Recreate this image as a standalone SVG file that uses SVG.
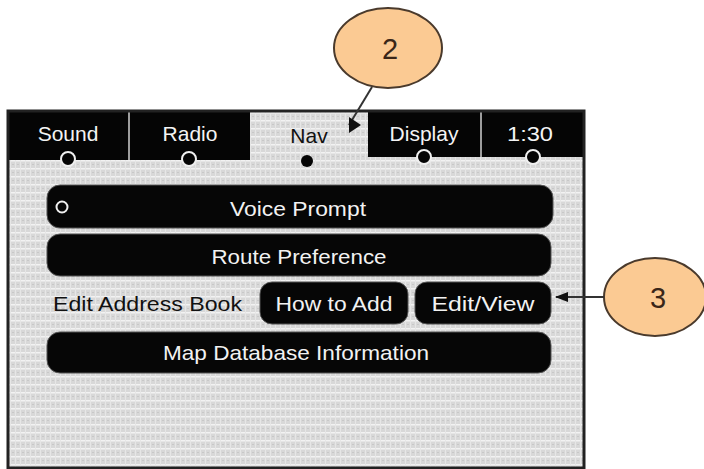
<svg xmlns="http://www.w3.org/2000/svg" width="704" height="469" viewBox="0 0 704 469">
  <style>
    .tabtxt { font-family: "Liberation Sans", Arial, sans-serif; font-size: 21px; fill: #f4f4f4; text-anchor: middle; }
    .btn { fill: #060606; stroke: #555; stroke-width: 1; }
    .btntxt { font-family: "Liberation Sans", Arial, sans-serif; font-size: 21px; fill: #f2f2f2; text-anchor: middle; }
    .lbl { font-family: "Liberation Sans", Arial, sans-serif; font-size: 21px; fill: #111; }
    .callout { fill: #fbca93; stroke: #4a3a2c; stroke-width: 2; }
    .callnum { font-family: "Liberation Sans", Arial, sans-serif; font-size: 29px; fill: #3a2618; text-anchor: middle; }
    .dot { fill: #050505; stroke: #f0f0f0; stroke-width: 2; }
    .conn { stroke: #333; stroke-width: 2; fill: none; }
  </style>
  <defs>
    <pattern id="grid" width="5" height="8" patternUnits="userSpaceOnUse">
      <rect width="5" height="8" fill="#d8d8d8"/>
      <rect y="0" width="5" height="1.5" fill="#f2f2f2"/>
      <rect x="0" y="0" width="1" height="8" fill="#e6e6e6"/>
      <rect x="2" y="4" width="2" height="1" fill="#c8c8c8"/>
    </pattern>
    <marker id="headRight" markerWidth="12" markerHeight="16" refX="0" refY="8" orient="0" markerUnits="userSpaceOnUse">
      <path d="M0,0 L12,8 L0,16 Z" fill="#111"/>
    </marker>
    <marker id="headAuto" markerWidth="13" markerHeight="10" refX="12" refY="5" orient="auto" markerUnits="userSpaceOnUse">
      <path d="M0,0 L13,5 L0,10 Z" fill="#111"/>
    </marker>
  </defs>

  <rect width="704" height="469" fill="#ffffff"/>

  <g id="frame">
    <rect x="8" y="111" width="576" height="357" fill="url(#grid)"/>
    <rect x="8" y="111" width="242" height="49" fill="#050505"/>
    <rect x="368" y="111" width="216" height="46" fill="#050505"/>
    <line x1="129" y1="111" x2="129" y2="160" stroke="#d0d0d0" stroke-width="1.5"/>
    <line x1="481" y1="111" x2="481" y2="157" stroke="#d0d0d0" stroke-width="1.5"/>
    <rect x="8" y="111" width="576" height="357" fill="none" stroke="#222" stroke-width="3"/>
  </g>

  <g id="tab-sound">
    <text class="tabtxt" x="68" y="141">Sound</text>
    <circle class="dot" cx="68" cy="159" r="7"/>
  </g>
  <g id="tab-radio">
    <text class="tabtxt" x="190" y="141">Radio</text>
    <circle class="dot" cx="189" cy="159" r="7"/>
  </g>
  <g id="tab-nav">
    <text class="tabtxt" x="309" y="143" fill="#111" style="fill:#111">Nav</text>
    <circle cx="307" cy="161" r="6" fill="#050505"/>
  </g>
  <g id="tab-display">
    <text class="tabtxt" x="424" y="141">Display</text>
    <circle class="dot" cx="424" cy="157" r="7"/>
  </g>
  <g id="tab-time">
    <text class="tabtxt" x="530" y="141" textLength="46" lengthAdjust="spacingAndGlyphs">1:30</text>
    <circle class="dot" cx="533" cy="157" r="7"/>
  </g>

  <g id="btn-voice">
    <rect class="btn" x="47" y="185" width="506" height="43" rx="13"/>
    <circle cx="62" cy="207" r="5.5" fill="none" stroke="#f0f0f0" stroke-width="2"/>
    <text class="btntxt" x="298" y="216" textLength="136" lengthAdjust="spacingAndGlyphs">Voice Prompt</text>
  </g>
  <g id="btn-route">
    <rect class="btn" x="47" y="234" width="504" height="42" rx="13"/>
    <text class="btntxt" x="299" y="264" textLength="175" lengthAdjust="spacingAndGlyphs">Route Preference</text>
  </g>
  <g id="label-edit">
    <text class="lbl" x="53" y="311" textLength="189" lengthAdjust="spacingAndGlyphs">Edit Address Book</text>
  </g>
  <g id="btn-howto">
    <rect class="btn" x="260" y="282" width="148" height="42" rx="12"/>
    <text class="btntxt" x="334" y="311" textLength="117" lengthAdjust="spacingAndGlyphs">How to Add</text>
  </g>
  <g id="btn-editview">
    <rect class="btn" x="415" y="282" width="136" height="42" rx="12"/>
    <text class="btntxt" x="483" y="311" textLength="103" lengthAdjust="spacingAndGlyphs">Edit/View</text>
  </g>
  <g id="btn-map">
    <rect class="btn" x="47" y="332" width="504" height="41" rx="13"/>
    <text class="btntxt" x="296" y="360" textLength="266" lengthAdjust="spacingAndGlyphs">Map Database Information</text>
  </g>

  <g id="callout-2">
    <ellipse class="callout" cx="388" cy="48" rx="54" ry="40"/>
    <text class="callnum" x="390" y="59">2</text>
  </g>
  <g id="callout-3">
    <ellipse class="callout" cx="655" cy="297" rx="51" ry="39"/>
    <text class="callnum" x="658" y="308">3</text>
  </g>

  <g id="connectors">
    <line class="conn" x1="372" y1="87" x2="349" y2="125" marker-end="url(#headRight)"/>
    <line class="conn" x1="604" y1="297" x2="556" y2="297" marker-end="url(#headAuto)"/>
  </g>
</svg>
